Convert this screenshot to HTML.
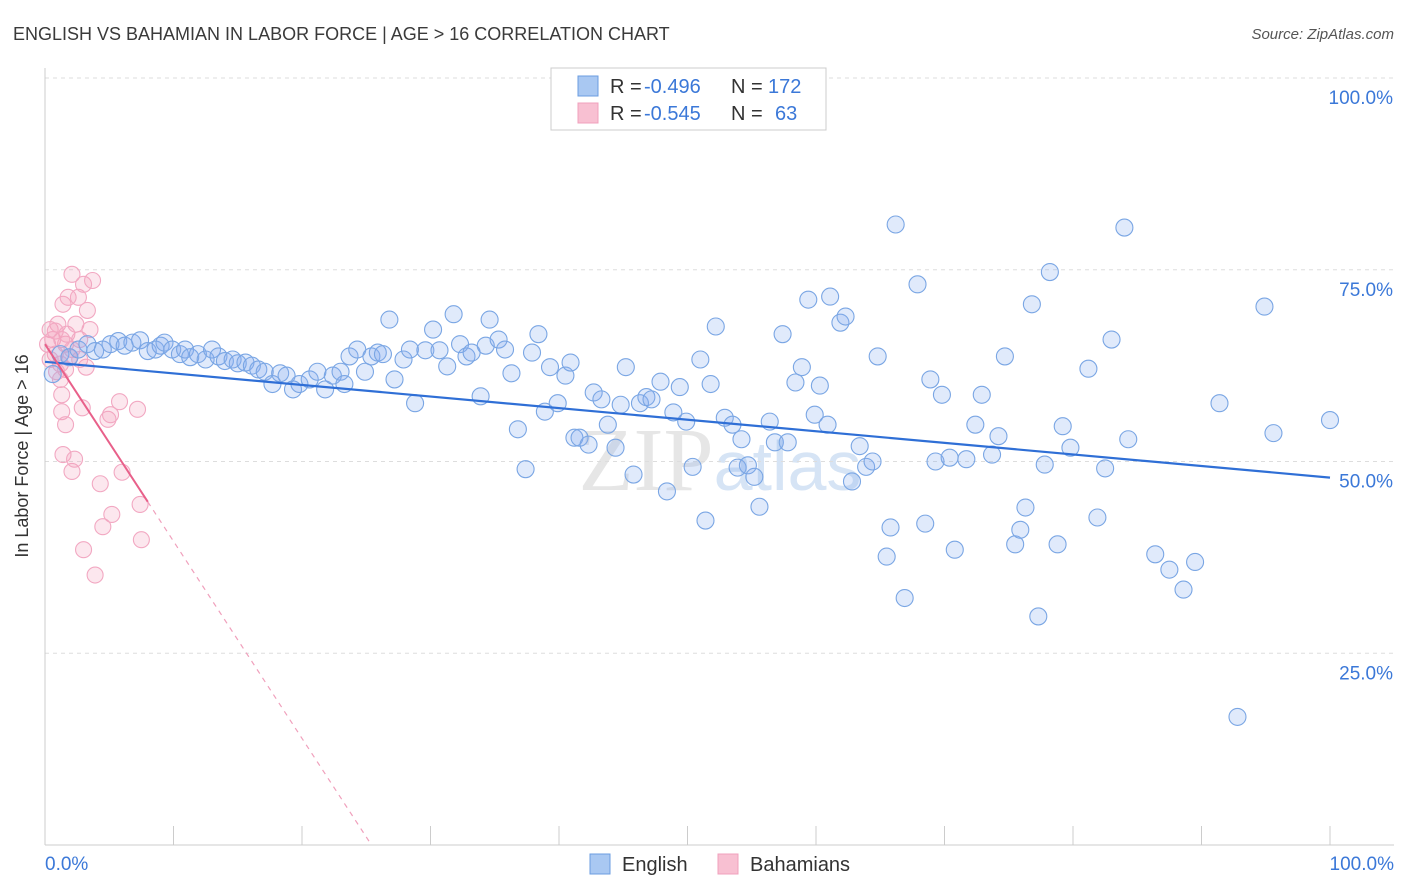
<!DOCTYPE html>
<html><head><meta charset="utf-8"><style>
body{margin:0;background:#fff;font-family:"Liberation Sans",sans-serif}
svg{display:block}
</style></head><body>
<svg id="chart" width="1406" height="892">
<text x="13" y="40" font-size="18" fill="#3a3a3a">ENGLISH VS BAHAMIAN IN LABOR FORCE | AGE &gt; 16 CORRELATION CHART</text>
<text x="1394" y="39" font-size="15" fill="#555" text-anchor="end" font-style="italic">Source: ZipAtlas.com</text>
<text x="720" y="490" font-size="90" fill="#e6e6e6" text-anchor="middle" font-family="Liberation Serif">ZIP<tspan fill="#d6e4f5" font-family="Liberation Sans" font-size="70">atlas</tspan></text>
<g id="grid"></g>
<g id="axes"></g>
<g id="pts"></g>
<g id="trend"></g>
<text x="28" y="456" font-size="18" fill="#333" text-anchor="middle" transform="rotate(-90 28 456)">In Labor Force | Age &gt; 16</text>
<g>
<rect x="551" y="68" width="275" height="62" fill="#fff" stroke="#ccc"/>
<rect x="578" y="76" width="20" height="20" fill="#a9c8f2" stroke="#6b9de0"/>
<rect x="578" y="103" width="20" height="20" fill="#f8c0d2" stroke="#f0a0bc"/>
<text x="610" y="93" font-size="20" fill="#333">R =</text>
<text x="644" y="93" font-size="20" fill="#3b78d8">-0.496</text>
<text x="731" y="93" font-size="20" fill="#333">N =</text>
<text x="768" y="93" font-size="20" fill="#3b78d8">172</text>
<text x="610" y="120" font-size="20" fill="#333">R =</text>
<text x="644" y="120" font-size="20" fill="#3b78d8">-0.545</text>
<text x="731" y="120" font-size="20" fill="#333">N =</text>
<text x="775" y="120" font-size="20" fill="#3b78d8">63</text>
</g>
<g>
<rect x="590" y="854" width="20" height="20" fill="#a9c8f2" stroke="#6b9de0"/>
<text x="622" y="871" font-size="20" fill="#333">English</text>
<rect x="718" y="854" width="20" height="20" fill="#f8c0d2" stroke="#f0a0bc"/>
<text x="750" y="871" font-size="20" fill="#333">Bahamians</text>
</g>
</svg>
<script>
const yTicks=[25,50,75,100];
const yTickLabels=["25.0%","50.0%","75.0%","100.0%"];
const xTickLabels=["0.0%","100.0%"];
const englishX=[0.6,1.2,1.9,2.6,3.3,3.9,4.5,5.1,5.7,6.2,6.8,7.4,8.0,8.6,9.0,9.3,9.9,10.5,10.9,11.3,11.9,12.5,13.0,13.5,14.0,14.6,15.0,15.6,16.1,16.6,17.1,17.7,18.3,18.8,19.3,19.8,20.6,21.2,21.8,22.4,23.0,23.3,23.7,24.3,24.9,25.4,25.9,26.3,26.8,27.2,27.9,28.4,28.8,29.6,30.2,30.7,31.3,31.8,32.3,32.8,33.2,33.9,34.3,34.6,35.3,35.8,36.3,36.8,37.4,37.9,38.4,38.9,39.3,39.9,40.5,40.9,41.2,41.6,42.3,42.7,43.3,43.8,44.4,44.8,45.2,45.8,46.3,46.8,47.2,47.9,48.4,48.9,49.4,49.9,50.4,51.0,51.4,51.8,52.2,52.9,53.5,53.9,54.2,54.7,55.2,55.6,56.4,56.8,57.4,57.8,58.4,58.9,59.4,59.9,60.3,60.9,61.1,61.9,62.3,62.8,63.4,63.9,64.4,64.8,65.5,65.8,66.2,66.9,67.9,68.5,68.9,69.3,69.8,70.4,70.8,71.7,72.4,72.9,73.7,74.2,74.7,75.5,75.9,76.3,76.8,77.3,77.8,78.2,78.8,79.2,79.8,81.2,81.9,82.5,83.0,84.0,84.3,86.4,87.5,88.6,89.5,91.4,92.8,94.9,95.6,100];
const englishY=[61.4,64.0,63.6,64.6,65.3,64.4,64.6,65.3,65.7,65.1,65.5,65.8,64.4,64.6,65.1,65.5,64.6,64.0,64.6,63.6,64.0,63.3,64.6,63.7,63.1,63.3,62.8,62.9,62.5,62.0,61.7,60.1,61.5,61.2,59.4,60.1,60.7,61.7,59.4,61.2,61.7,60.1,63.7,64.6,61.7,63.7,64.2,64.0,68.5,60.7,63.3,64.6,57.6,64.5,67.2,64.5,62.4,69.2,65.3,63.7,64.2,58.5,65.1,68.5,65.9,64.6,61.5,54.2,49.0,64.2,66.6,56.5,62.3,57.6,61.2,62.9,53.1,53.1,52.2,59.0,58.1,54.8,51.8,57.4,62.3,48.3,57.6,58.4,58.1,60.4,46.1,56.4,59.7,55.2,49.3,63.3,42.3,60.1,67.6,55.7,54.8,49.2,52.9,49.5,48.0,44.1,55.2,52.5,66.6,52.5,60.3,62.3,71.1,56.1,59.9,54.8,71.5,68.1,68.9,47.4,52.0,49.3,50.0,63.7,37.6,41.4,80.9,32.2,73.1,41.9,60.7,50.0,58.7,50.5,38.5,50.3,54.8,58.7,50.9,53.3,63.7,39.2,41.1,44.0,70.5,29.8,49.6,74.7,39.2,54.6,51.8,62.1,42.7,49.1,65.9,80.5,52.9,37.9,35.9,33.3,36.9,57.6,16.7,70.2,53.7,55.4];
const bahamiansX=[0.4,0.6,0.8,1.0,1.2,1.3,1.4,1.6,1.7,1.8,1.9,1.3,1.6,1.4,2.1,2.1,2.3,2.4,2.6,2.7,2.9,3.0,3.2,3.3,3.0,3.7,3.9,4.3,4.5,4.9,5.1,5.2,5.8,6.0,7.2,7.4,7.5,0.2,0.4,0.8,0.9,1.3,1.6,2.1,2.7,3.5,1.2];
const bahamiansY=[67.2,65.9,64.0,67.9,62.7,58.7,70.5,65.3,66.6,71.4,63.6,56.5,54.8,50.9,74.4,48.7,50.3,67.9,71.4,65.9,57.0,73.1,62.3,69.7,38.5,73.6,35.2,47.1,41.5,55.5,56.1,43.1,57.8,48.6,56.8,44.4,39.8,65.3,63.3,67.0,61.7,65.9,62.0,64.6,63.3,67.2,60.7];
const englishTrend=[63.0,47.9];
const bahamiansTrend=[65.3,-2.57];

const NS="http://www.w3.org/2000/svg";
const X0=45,X1=1330,Y0=845,Y100=78;
const xs=v=>X0+(X1-X0)*v/100;
const ys=v=>Y0-(Y0-Y100)*v/100;
function mk(tag,attrs,parent){const e=document.createElementNS(NS,tag);for(const k in attrs)e.setAttribute(k,attrs[k]);parent.appendChild(e);return e;}
const grid=document.getElementById('grid'),axes=document.getElementById('axes'),pts=document.getElementById('pts'),trend=document.getElementById('trend');
yTicks.forEach((t,i)=>{
 const l=mk('line',{x1:X0,x2:1394,y1:ys(t),y2:ys(t),stroke:'#ddd','stroke-dasharray':'4,4'},grid);
 
 
 const tx=mk('text',{x:1393,y:ys(t)+26,'font-size':19,fill:'#3b78d8','text-anchor':'end'},axes);
 tx.textContent=yTickLabels[i];
 
 
});
const ax=mk('line',{x1:X0,x2:X0,y1:68,y2:Y0,stroke:'#ccc'},axes);


const bx=mk('line',{x1:X0,x2:1394,y1:Y0,y2:Y0,stroke:'#ccc'},axes);


for(let i=1;i<=10;i++){
 const t=mk('line',{x1:xs(i*10),x2:xs(i*10),y1:826,y2:Y0,stroke:'#ccc'},axes);
 
 
}
[[0,'start',45],[100,'end',1394]].forEach((p,i)=>{
 const tx=mk('text',{x:p[2],y:870,'font-size':19,fill:'#3b78d8','text-anchor':p[1]},axes);
 tx.textContent=xTickLabels[i];
 
 
});
bahamiansX.forEach((x,i)=>{
 const c=mk('circle',{cx:xs(x),cy:ys(bahamiansY[i]),r:8,fill:'rgba(244,160,188,0.25)',stroke:'#f2a8c2','stroke-width':1.1},pts);
 
 
});
englishX.forEach((x,i)=>{
 const c=mk('circle',{cx:xs(x),cy:ys(englishY[i]),r:8.5,fill:'rgba(130,172,238,0.25)',stroke:'#7aa6e4','stroke-width':1.1},pts);
 
 
});
const el=mk('line',{x1:xs(0),y1:ys(englishTrend[0]),x2:xs(100),y2:ys(englishTrend[1]),stroke:'#2f6fd6','stroke-width':2.2},trend);


const bf=x=>bahamiansTrend[0]+bahamiansTrend[1]*x;
const bl=mk('line',{x1:xs(0),y1:ys(bf(0)),x2:xs(8),y2:ys(bf(8)),stroke:'#e8608a','stroke-width':2},trend);


const xe=-bahamiansTrend[0]/bahamiansTrend[1];
const bd=mk('line',{x1:xs(8),y1:ys(bf(8)),x2:xs(xe),y2:ys(0),stroke:'#f0a0bc','stroke-width':1.2,'stroke-dasharray':'5,5'},trend);


</script>
</body></html>
